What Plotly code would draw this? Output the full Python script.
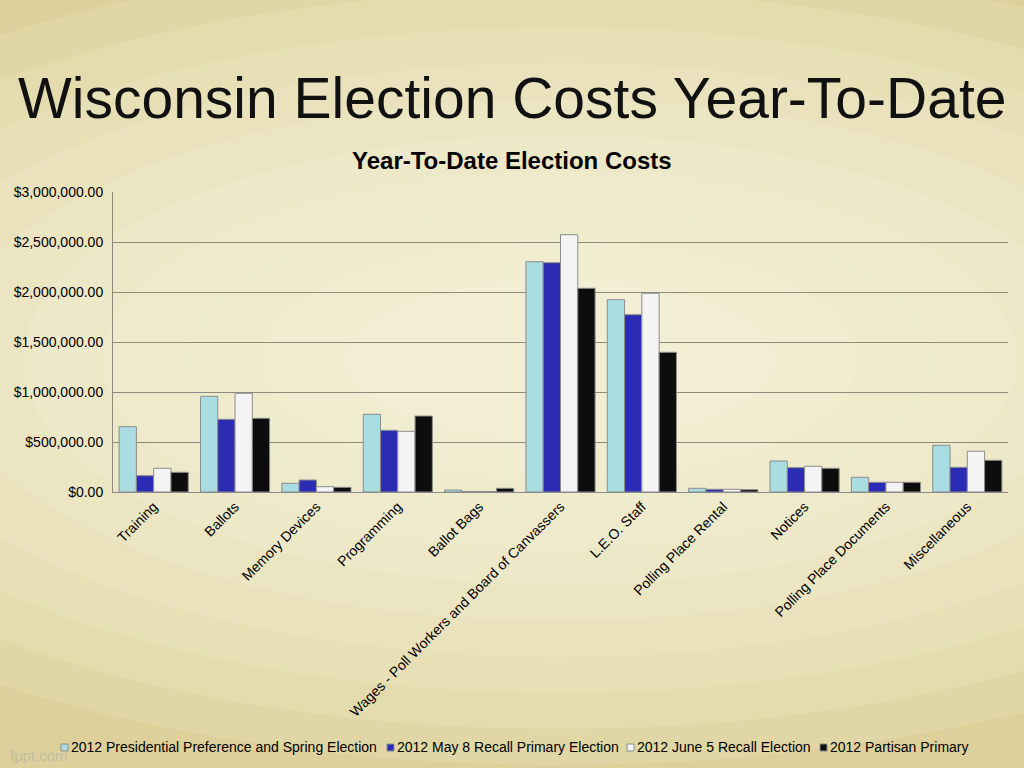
import plotly.graph_objects as go

categories = ["Training", "Ballots", "Memory Devices", "Programming", "Ballot Bags",
              "Wages - Poll Workers and Board of Canvassers", "L.E.O. Staff",
              "Polling Place Rental", "Notices", "Polling Place Documents", "Miscellaneous"]
series_names = ["2012 Presidential Preference and Spring Election",
                "2012 May 8 Recall Primary Election",
                "2012 June 5 Recall Election",
                "2012 Partisan Primary"]
presidential = [653000, 957000, 87000, 777000, 20000, 2303000, 1923000, 37000, 310000, 147000, 467000]
may8_recall = [163000, 727000, 120000, 617000, 5000, 2293000, 1773000, 27000, 243000, 97000, 247000]
june5_recall = [237000, 987000, 53000, 607000, 5000, 2573000, 1987000, 27000, 257000, 97000, 407000]
partisan = [197000, 737000, 47000, 760000, 37000, 2037000, 1397000, 23000, 237000, 97000, 317000]
series_values = [presidential, may8_recall, june5_recall, partisan]
colors = ["#a9dde2", "#2b2bb3", "#f4f4f4", "#0d0d0d"]
y_ticks = [0, 500000, 1000000, 1500000, 2000000, 2500000, 3000000]

fig = go.Figure()
for name, vals, col in zip(series_names, series_values, colors):
    fig.add_trace(go.Bar(x=categories, y=vals, name=name, showlegend=False,
                         marker=dict(color=col, line=dict(color="#8c8c8c", width=1))))

L, R, T, B = 113, 16, 192, 276
pw, ph = 1024 - L - R, 768 - T - B

def px(x):
    return (x - L) / pw

def py(y):
    return (768 - B - y) / ph

# background radial-ish glow
shapes = []
cx, cy = px(560), py(360)
for i in range(10):
    rx = 1.05 - i * 0.09
    ry = 1.35 - i * 0.12
    shapes.append(dict(type="circle", xref="paper", yref="paper", layer="below",
                       x0=cx - rx, x1=cx + rx, y0=cy - ry, y1=cy + ry,
                       fillcolor="#f8f6e6", opacity=0.15, line=dict(width=0)))

annotations = [
    dict(text="Wisconsin Election Costs Year-To-Date", xref="paper", yref="paper",
         x=px(512), y=py(98), xanchor="center", yanchor="middle", showarrow=False,
         font=dict(size=57, color="#111111")),
    dict(text="<b>Year-To-Date Election Costs</b>", xref="paper", yref="paper",
         x=px(512), y=py(160), xanchor="center", yanchor="middle", showarrow=False,
         font=dict(size=24)),
    dict(text="fppt.com", xref="paper", yref="paper", x=px(8), y=py(755),
         xanchor="left", yanchor="middle", showarrow=False,
         font=dict(size=15, color="#c2bca4")),
]

# custom single-row legend (swatch + text)
legend_x = [61, 387, 627, 820]
for name, col, lx in zip(series_names, colors, legend_x):
    shapes.append(dict(type="rect", xref="paper", yref="paper",
                       x0=px(lx), x1=px(lx + 7), y0=py(751), y1=py(744),
                       fillcolor=col, line=dict(color="#8c8c8c", width=1)))
    annotations.append(dict(text=name, xref="paper", yref="paper", x=px(lx + 7.5), y=py(747),
                            xanchor="left", yanchor="middle", showarrow=False,
                            font=dict(size=14)))

fig.update_layout(
    width=1024, height=768,
    margin=dict(l=L, r=R, t=T, b=B, autoexpand=False),
    paper_bgcolor="#ddd09a",
    plot_bgcolor="rgba(0,0,0,0)",
    font=dict(family="Liberation Sans, Arial, sans-serif", color="#000000"),
    barmode="group", bargap=0.15, bargroupgap=0.0,
    shapes=shapes,
    annotations=annotations,
    showlegend=False,
    xaxis=dict(tickangle=-45, tickfont=dict(size=14), showline=True, linecolor="#8a8a8a",
               linewidth=1, automargin=False, ticks=""),
    yaxis=dict(range=[0, 3000000], tickvals=y_ticks, tickformat="$,.2f", tickfont=dict(size=14),
               showgrid=True, gridcolor="#8e8a7c", gridwidth=1, showline=True,
               linecolor="#8e8a7c", automargin=False, zeroline=False, ticks="",
               ticklabelstandoff=6),
)

fig.write_html("out.html", config={"displayModeBar": False},
               post_script="document.body.style.margin='0';")
